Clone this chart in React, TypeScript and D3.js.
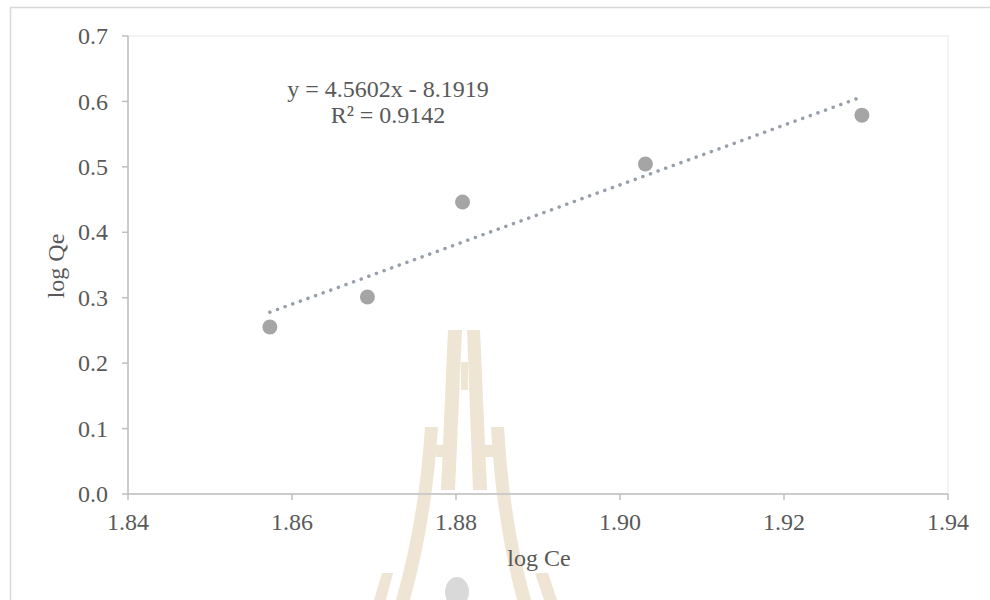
import { useMemo } from 'react';
import * as d3 from 'd3';

// values
const logCe = [1.8573, 1.8692, 1.8808, 1.9031, 1.9295];
const logQe = [0.2552, 0.301, 0.4463, 0.5044, 0.579];
const xTicks = [1.84, 1.86, 1.88, 1.9, 1.92, 1.94];
const yTicks = [0, 0.1, 0.2, 0.3, 0.4, 0.5, 0.6, 0.7];
const slope = 4.5602;
const intercept = -8.1919;
const eqLabel = 'y = 4.5602x - 8.1919';
const r2Label = 'R² = 0.9142';

const FONT = '"Liberation Serif", "Times New Roman", serif';
const TEXT = '#595959';
const TAN = '#eee5d4';
const FS = 24;

function Watermark() {
    // simplified logo sitting behind the chart
    return (
        <g fill={TAN}>
            <polygon points="448,330 462,330 455,490 441,490" />
            <polygon points="467,330 480,330 487,490 473,490" />
            <rect x={461} y={362} width={7} height={28} />
            <path d="M425,427 L438,427 Q432,520 410,600 L396,600 Q419,520 425,427 Z" />
            <path d="M491,427 L504,427 Q509,520 531,600 L517,600 Q496,520 491,427 Z" />
            <rect x={436} y={445} width={15} height={12} />
            <rect x={481} y={445} width={12} height={12} />
            <polygon points="382,573 393,573 386,600 374,600" />
            <polygon points="535,573 548,573 557,600 544,600" />
            <ellipse cx={457} cy={592} rx={12} ry={15} fill="#d9d9d9" />
        </g>
    );
}

export default function App() {
    const width = 990;
    const height = 600;
    const left = 128;
    const right = 948;
    const top = 36;
    const bottom = 494;

    const x = useMemo(() => d3.scaleLinear().domain([1.84, 1.94]).range([left, right]), []);
    const y = useMemo(() => d3.scaleLinear().domain([0, 0.7]).range([bottom, top]), []);

    const points = logCe.map((c, i) => ({ c, q: logQe[i] }));
    const [x0, x1] = d3.extent(logCe) as [number, number];
    const trend = d3.line<number>()
        .x(d => x(d))
        .y(d => y(slope * d + intercept))([x0, x1]) || '';

    return (
        <svg width={width} height={height} style={{ position: 'absolute', left: 0, top: 0, background: '#fff' }}
            fontFamily={FONT}>
            {/* outer frame */}
            <line x1={10.5} y1={7} x2={10.5} y2={height} stroke="#d9d9d9" strokeWidth={1.5} />
            <line x1={10} y1={7.5} x2={width} y2={7.5} stroke="#d9d9d9" strokeWidth={1.5} />

            <Watermark />

            {/* plot area border */}
            <rect x={left} y={top} width={right - left} height={bottom - top} fill="none" stroke="#efefef" strokeWidth={1.5} />

            {/* axes */}
            <line x1={left} y1={top} x2={left} y2={bottom} stroke="#bfbfbf" strokeWidth={1.5} />
            <line x1={left} y1={bottom} x2={right} y2={bottom} stroke="#bfbfbf" strokeWidth={1.5} />
            {yTicks.map(t => (
                <g key={'y' + t}>
                    <line x1={left - 6} x2={left} y1={y(t)} y2={y(t)} stroke="#bfbfbf" strokeWidth={1.5} />
                    <text x={108} y={y(t)} dy="0.34em" textAnchor="end" fontSize={FS} fill={TEXT}>{t.toFixed(1)}</text>
                </g>
            ))}
            {xTicks.map(t => (
                <g key={'x' + t}>
                    <line x1={x(t)} x2={x(t)} y1={bottom} y2={bottom + 6} stroke="#bfbfbf" strokeWidth={1.5} />
                    <text x={x(t)} y={530} textAnchor="middle" fontSize={FS} fill={TEXT}>{t.toFixed(2)}</text>
                </g>
            ))}

            {/* axis titles */}
            <text x={539} y={566} textAnchor="middle" fontSize={FS} fill={TEXT}>log Ce</text>
            <text transform="translate(64,266) rotate(-90)" textAnchor="middle" fontSize={FS} fill={TEXT}>log Qe</text>

            {/* trendline */}
            <path d={trend} fill="none" stroke="#97a0aa" strokeWidth={3.5} strokeLinecap="round" strokeDasharray="0.1 8" />

            {/* points */}
            {points.map((p, i) => (
                <circle key={i} cx={x(p.c)} cy={y(p.q)} r={7.5} fill="#a5a5a5" />
            ))}

            {/* equation */}
            <text x={388} y={97} textAnchor="middle" fontSize={FS} fill={TEXT}>{eqLabel}</text>
            <text x={388} y={123} textAnchor="middle" fontSize={FS} fill={TEXT}>{r2Label}</text>
        </svg>
    );
}
